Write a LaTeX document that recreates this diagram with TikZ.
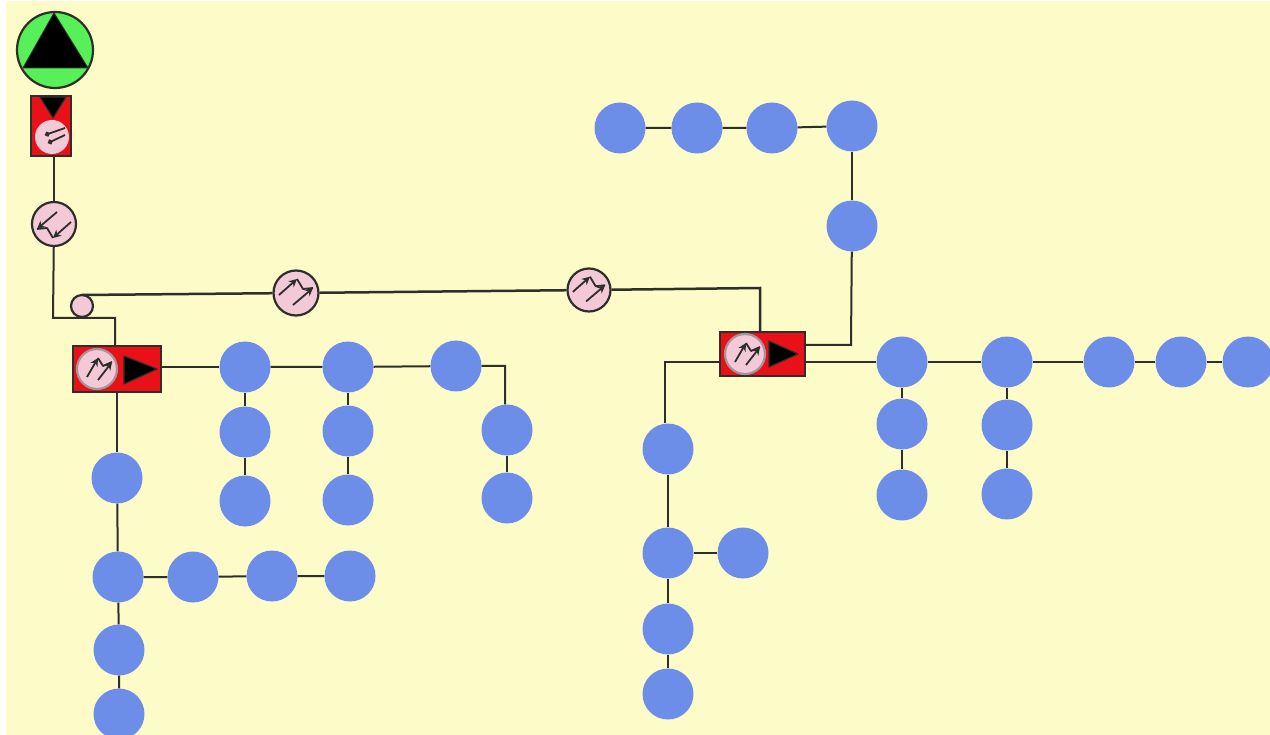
\documentclass[tikz,border=0pt]{standalone}
\usetikzlibrary{arrows.meta,calc}
\definecolor{paper}{HTML}{FDFBC8}
\definecolor{bluenode}{HTML}{6C8EE8}
\definecolor{pinkfill}{HTML}{F3C9D8}
\definecolor{redbox}{HTML}{EA1018}
\definecolor{greenfill}{HTML}{58F058}
\definecolor{ink}{HTML}{2E2E2A}
\tikzset{
  bn/.style={circle,fill=bluenode,inner sep=0pt,minimum size=51pt},
  pn/.style={circle,draw=ink,line width=2.2pt,fill=pinkfill,inner sep=0pt,minimum size=#1},
  redb/.style={rectangle,draw=ink,line width=1.6pt,fill=redbox,inner sep=0pt},
  wire/.style={draw=ink,line width=2pt},
  hwire/.style={draw=ink,line width=2.5pt},
  glyph/.style={draw=ink,line width=1.8pt,line join=round},
  tip/.style={-{Stealth[length=8pt,width=8pt]}},
  tri/.style={fill=black,draw=ink,line width=1.2pt,line join=round},
  pics/zig/.style={code={
    \draw[glyph,tip] (-17,2) -- (1,-14);
    \draw[glyph] (1,-14) -- (7,-4) -- (17,-5);
    \draw[glyph,tip] (-3,12) -- (17,-5);
  }},
  pics/updouble/.style={code={
    \draw[glyph,tip] (-10,8) -- (1,-11);
    \draw[glyph] (1,-11) -- (6,-3) -- (15,-7);
    \draw[glyph,tip] (1,11) -- (15,-7);
  }}
}
\begin{document}
\begin{tikzpicture}[x=1pt,y=-1pt]
\useasboundingbox (0,0) rectangle (1270,735);
\fill[white] (0,0) rectangle (1270,735);
\fill[paper] (6,1) rectangle (1270,735);

% connector bends and ports
\coordinate (w1) at (53,318);
\coordinate (w2) at (115,318);
\coordinate (w3) at (760,288);
\coordinate (w4) at (851,345);
\coordinate (w5) at (665,362);
\coordinate (w6) at (505,366);
\coordinate (s1) at (82,295);

% blue nodes
\foreach \n/\x/\y in {t1/620/128,t2/697/128,t3/772/128,t4/852/126,t5/852/226,
  r1/902/362,r2/1007/362,r3/1109/362,r4/1181/362,r5/1248/362,
  r6/902/424,r7/902/495,r8/1007/425,r9/1007/494,
  m1/668/449,m2/668/553,m3/743/553,m4/668/629,m5/668/694,
  a1/245/367,a2/348/367,a3/456/366,a4/507/430,a5/507/498,
  a6/245/432,a7/245/501,a8/348/431,a9/348/500,
  b1/117/478,b2/118/577,b3/193/577,b4/272/576,b5/350/576,b6/119/650,b7/119/714}
  {\node[bn] (\n) at (\x,\y) {};}

% source
\node[circle,draw=ink,line width=2.2pt,fill=greenfill,inner sep=0pt,minimum size=76pt] (src) at (55,50) {};
\fill[black,draw=ink,line width=1pt,line join=round] (54,13) -- (88,68) -- (23,68) -- cycle;

% top red box
\node[redb,minimum width=40pt,minimum height=60pt] (tb) at (51,126) {};
\fill[tri] (40,97) -- (66,97) -- (53,118) -- cycle;
\node[circle,fill=pinkfill,inner sep=0pt,minimum size=34pt] (tc) at (52,137) {};
\draw[glyph,-{Circle[length=5pt]}] (65,128) -- (45,135);
\draw[glyph,-{Circle[length=5pt]}] (65,135) -- (48,143);

% pink nodes
\node[pn=44pt] (p1) at (54,224) {};
\pic[rotate=180] at (p1.center) {zig};
\node[pn=22pt] (p2) at (82,306) {};
\node[pn=45pt] (p3) at (296,293) {};
\pic at (p3.center) {zig};
\node[pn=43pt] (p4) at (589,290) {};
\pic[scale=.95] at (p4.center) {zig};

% left box
\node[redb,minimum width=88pt,minimum height=46pt] (lb) at (117,369) {};
\node[pn=40pt,draw=gray!70!pinkfill] (lc) at (97,369) {};
\pic at (lc.center) {updouble};
\fill[tri] (124,356) -- (124,384) -- (157,369) -- cycle;

% right box
\node[redb,minimum width=85pt,minimum height=44pt] (rb) at (762.5,354) {};
\node[pn=40pt,draw=gray!70!pinkfill] (rc) at (745,354) {};
\pic at (rc.center) {updouble};
\fill[tri] (769,341) -- (769,367) -- (798,354) -- cycle;

% connectors
\draw[wire] (tb.south -| p1) -- (p1);
\draw[wire] (p1) -- (w1) -- (w2) -- (w2 |- lb.north);
\draw[hwire] (s1) -- (p3) -- (p4) -- (w3) -- (w3 |- rb.north);
\draw[wire] (lb.east |- a1) -- (a1);
\draw[wire] (a1) -- (a2) -- (a3) -- (w6) -- (w6 |- a4.north);
\draw[wire] (a1) -- (a6) -- (a7);
\draw[wire] (a2) -- (a8) -- (a9);
\draw[wire] (a4) -- (a5);
\draw[wire] (lb.south -| b1) -- (b1);
\draw[wire] (b1) -- (b2) -- (b6) -- (b7);
\draw[wire] (b2) -- (b3) -- (b4) -- (b5);
\draw[hwire] (rb.west |- w5) -- (w5) -- (w5 |- m1.north);
\draw[wire] (m1) -- (m2) -- (m4) -- (m5);
\draw[wire] (m2) -- (m3);
\draw[wire] (rb.east |- w4) -- (w4) -- (t5);
\draw[wire] (t5) -- (t4);
\draw[wire] (t1) -- (t2) -- (t3) -- (t4);
\draw[hwire] (rb.east |- r1) -- (r1);
\draw[wire] (r1) -- (r2) -- (r3) -- (r4) -- (r5);
\draw[wire] (r1) -- (r6) -- (r7);
\draw[wire] (r2) -- (r8) -- (r9);
\end{tikzpicture}
\end{document}
